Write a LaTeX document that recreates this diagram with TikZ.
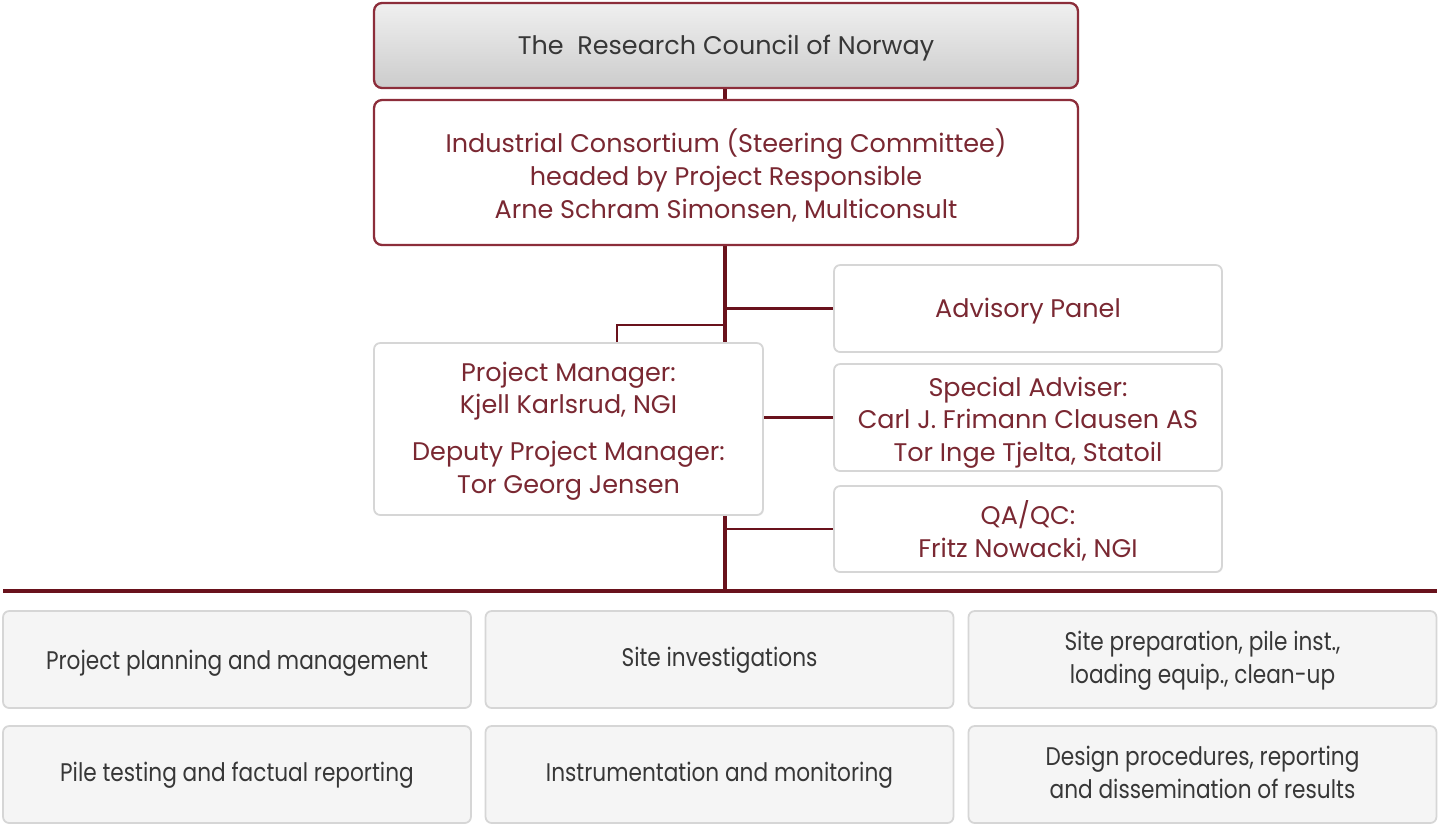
\documentclass[tikz,border=0pt]{standalone}
\usepackage{fontspec}
\setmainfont{Poppins}
\newfontfamily\narrowfont[FakeStretch=0.85]{Poppins}
\usetikzlibrary{backgrounds,shadows}
\pgfdeclarelayer{bottom}
\pgfsetlayers{bottom,background,main}
\definecolor{maroon}{RGB}{105,18,28}
\definecolor{txtred}{RGB}{122,40,50}
\definecolor{boxred}{RGB}{140,45,58}
\definecolor{lightbd}{RGB}{214,214,214}
\definecolor{lightfill}{RGB}{245,245,245}
\definecolor{txtgray}{RGB}{55,55,55}
\newcommand{\lowtxt}[2]{\raisebox{-#1}[\height][\depth]{\begin{tabular}{@{}c@{}}#2\end{tabular}}}
\tikzset{
  topbox/.style={draw=boxred, line width=1.3pt, rounded corners=4.5pt, inner sep=0pt, outer sep=0pt, align=center, text=txtred, font=\fontsize{14.5}{18.5}\selectfont},
  sidebox/.style={draw=lightbd, line width=1pt, fill=white, rounded corners=3.5pt, inner sep=0pt, outer sep=0pt, align=center, text=txtred, font=\fontsize{14.5}{18.5}\selectfont, drop shadow={shadow xshift=0.5pt, shadow yshift=-0.5pt, opacity=0.15}},
  wpbox/.style={draw=lightbd, line width=1pt, fill=lightfill, rounded corners=3.5pt, inner sep=0pt, outer sep=0pt, align=center, text=txtgray, font=\narrowfont\fontsize{14.5}{18.5}\selectfont, minimum width=9.36cm, minimum height=1.94cm},
  trunk/.style={draw=maroon, line width=2.5pt},
  branch/.style={draw=maroon, line width=1.5pt},
  bar/.style={draw=maroon, line width=2.8pt}
}
\begin{document}
\begin{tikzpicture}[x=0.02cm,y=-0.02cm]
\useasboundingbox (0,0) rectangle (1440,825);
\begin{pgfonlayer}{bottom}
\fill[white] (0,0) rectangle (1440,825);
\end{pgfonlayer}
% top boxes
\node[topbox, top color=gray!12, bottom color=gray!40, text=txtgray, minimum width=14.08cm, minimum height=1.7cm] (rcn) at (726,45.5) {\lowtxt{1.7pt}{The\ \ Research Council of Norway}};
\node[topbox, fill=white, minimum width=14.08cm, minimum height=2.9cm] (ic) at (726,172.5) {\lowtxt{3.4pt}{Industrial Consortium (Steering Committee)\\headed by Project Responsible\\Arne Schram Simonsen, Multiconsult}};
% side boxes
\node[sidebox, minimum width=7.76cm, minimum height=1.74cm] (adv) at (1028,308.5) {\lowtxt{1.7pt}{Advisory Panel}};
\node[sidebox, minimum width=7.78cm, minimum height=3.44cm] (pm) at (568.5,429) {\lowtxt{1pt}{Project Manager:\\Kjell Karlsrud, NGI\\[8pt]Deputy Project Manager:\\Tor Georg Jensen}};
\node[sidebox, minimum width=7.76cm, minimum height=2.14cm] (sa) at (1028,417.5) {\lowtxt{2.8pt}{Special Adviser:\\Carl J. Frimann Clausen AS\\Tor Inge Tjelta, Statoil}};
\node[sidebox, minimum width=7.76cm, minimum height=1.72cm] (qa) at (1028,529) {\lowtxt{2.8pt}{QA/QC:\\Fritz Nowacki, NGI}};
% work packages
\node[wpbox] (wp1) at (237,659.5) {\lowtxt{2pt}{Project planning and management}};
\node[wpbox] (wp2) at (719.5,659.5) {\lowtxt{0.5pt}{Site investigations}};
\node[wpbox] (wp3) at (1202.5,659.5) {\lowtxt{0.7pt}{Site preparation, pile inst.,\\loading equip., clean-up}};
\node[wpbox] (wp4) at (237,774.5) {\lowtxt{0pt}{Pile testing and factual reporting}};
\node[wpbox] (wp5) at (719.5,774.5) {\lowtxt{0pt}{Instrumentation and monitoring}};
\node[wpbox] (wp6) at (1202.5,774.5) {\lowtxt{0.7pt}{Design procedures, reporting\\and dissemination of results}};
% connector points
\coordinate (barc) at (725,591);
\coordinate (barl) at (3,591);
\coordinate (barr) at (1437,591);
\coordinate (pmj) at (725,325);
\coordinate (pmtop) at (617,343);
\begin{scope}[on background layer]
\draw[trunk] (rcn.south -| barc) -- (ic.north -| barc);
\draw[trunk] (ic.south -| barc) -- (barc);
\draw[bar] (barl) -- (barr);
\draw[branch] (adv.west) -- (adv.west -| barc);
\draw[branch] (pmtop) |- (pmj);
\draw[branch] (sa.west -| pm.east) -- (sa.west);
\draw[branch] (qa.west) -- (qa.west -| barc);
\end{scope}
\end{tikzpicture}
\end{document}
